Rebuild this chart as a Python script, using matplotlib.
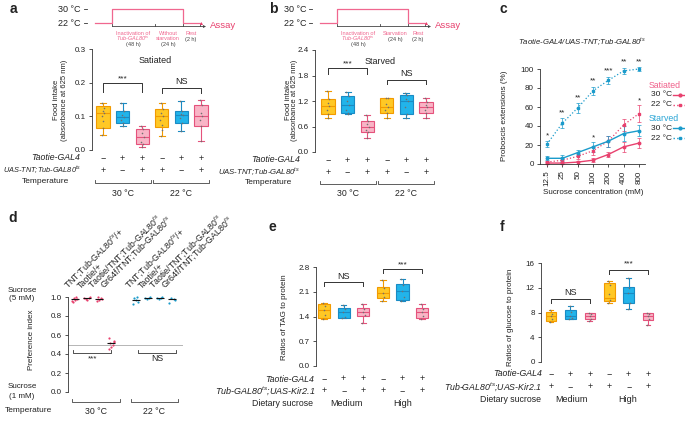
import matplotlib
matplotlib.use('Agg')
import matplotlib.pyplot as plt
import matplotlib.transforms as mtransforms
from matplotlib.lines import Line2D
import numpy as np

plt.rcParams['font.family'] = ['Liberation Sans', 'DejaVu Sans']
plt.rcParams['mathtext.fontset'] = 'custom'
plt.rcParams['mathtext.rm'] = 'Liberation Sans'
plt.rcParams['mathtext.it'] = 'Liberation Sans:italic'
plt.rcParams['font.size'] = 5.5
plt.rcParams['axes.linewidth'] = 0.6
plt.rcParams['xtick.major.width'] = 0.6
plt.rcParams['ytick.major.width'] = 0.6
plt.rcParams['xtick.major.size'] = 2.5
plt.rcParams['ytick.major.size'] = 2.5
plt.rcParams['xtick.major.pad'] = 2
plt.rcParams['ytick.major.pad'] = 2
plt.rcParams['text.color'] = '#222222'

# ---------------- data ----------------
# panel a (satiated food intake)
a_whislo = [0.045, 0.072, 0.010, 0.042, 0.055, 0.027]
a_q1 = [0.065, 0.080, 0.017, 0.068, 0.080, 0.070]
a_med = [0.110, 0.097, 0.040, 0.100, 0.105, 0.102]
a_q3 = [0.130, 0.115, 0.063, 0.123, 0.117, 0.133]
a_whishi = [0.140, 0.140, 0.070, 0.140, 0.145, 0.150]
a_points = [[0.14, 0.125, 0.115, 0.11, 0.10, 0.085, 0.065, 0.045],
            [0.14, 0.115, 0.105, 0.097, 0.09, 0.08, 0.072],
            [0.07, 0.063, 0.05, 0.04, 0.025, 0.017, 0.01],
            [0.14, 0.123, 0.11, 0.10, 0.09, 0.075, 0.06, 0.042],
            [0.145, 0.117, 0.108, 0.105, 0.095, 0.08, 0.055],
            [0.15, 0.133, 0.11, 0.10, 0.09, 0.07, 0.027]]
# panel b (starved food intake)
b_whislo = [0.79, 0.89, 0.32, 0.79, 0.79, 0.81]
b_q1 = [0.90, 0.91, 0.48, 0.91, 0.89, 0.92]
b_med = [1.09, 1.11, 0.60, 1.05, 1.19, 1.05]
b_q3 = [1.25, 1.31, 0.73, 1.26, 1.33, 1.17]
b_whishi = [1.43, 1.41, 0.87, 1.28, 1.40, 1.28]
b_points = [[1.43, 1.25, 1.15, 1.09, 1.0, 0.90, 0.79],
            [1.41, 1.31, 1.2, 1.11, 1.0, 0.91, 0.89],
            [0.87, 0.73, 0.65, 0.60, 0.52, 0.48, 0.32],
            [1.28, 1.26, 1.12, 1.05, 0.98, 0.91, 0.79],
            [1.40, 1.33, 1.25, 1.19, 1.05, 0.89, 0.79],
            [1.28, 1.17, 1.10, 1.05, 0.98, 0.92, 0.81]]
genotype_taotie = ['\u2212', '+', '+', '\u2212', '+', '+']
genotype_other = ['+', '\u2212', '+', '+', '\u2212', '+']
temperatures = ['30 \u00b0C', '22 \u00b0C']

# panel c (proboscis extension)
c_conc = ['12.5', '25', '50', '100', '200', '400', '800']
c_sat30 = [1, 1, 2, 4, 10, 18, 22]
c_sat30_err = [1, 1, 1.5, 2, 3, 5, 5]
c_sat22 = [2, 4, 8, 14, 24, 41, 53]
c_sat22_err = [1.5, 2, 3, 4, 6, 6, 9]
c_sta30 = [6, 6, 12, 18, 24, 32, 35]
c_sta30_err = [2, 3, 3, 5, 6, 8, 6]
c_sta22 = [21, 43, 59, 77, 88, 98, 100]
c_sta22_err = [3, 5, 5, 4, 4, 3, 2]
c_sta_stars = ['*', '**', '**', '**', '***', '**', '**']
c_sat_stars = ['', '', '', '*', '', '', '*']

# panel d (preference index)
d_labels = ['TNT;Tub-GAL80$^{ts}$/+', 'Taotie/+', 'Taotie/TNT;Tub-GAL80$^{ts}$',
            'Gr64f/TNT;Tub-GAL80$^{ts}$'] * 2
d_points = [[0.96, 0.98, 0.99, 1.0, 0.97, 0.95],
            [0.99, 1.0, 0.98, 0.99, 0.97],
            [0.96, 0.98, 1.0, 0.99, 0.97],
            [0.57, 0.54, 0.52, 0.50, 0.47, 0.45, 0.53],
            [0.93, 0.95, 0.99, 1.0, 0.97],
            [0.99, 1.0, 0.98, 0.99],
            [0.99, 1.0, 0.98, 0.99],
            [0.94, 0.97, 0.99, 0.98]]

# panel e (TAG)
e_whislo = [1.34, 1.36, 1.22, 1.84, 1.84, 1.34]
e_q1 = [1.37, 1.37, 1.42, 1.91, 1.87, 1.37]
e_med = [1.58, 1.53, 1.53, 2.07, 2.12, 1.53]
e_q3 = [1.75, 1.64, 1.65, 2.23, 2.33, 1.65]
e_whishi = [1.78, 1.73, 1.74, 2.42, 2.47, 1.74]
e_points = [[1.78, 1.70, 1.58, 1.45, 1.34],
            [1.73, 1.60, 1.53, 1.40, 1.36],
            [1.74, 1.62, 1.53, 1.45, 1.22],
            [2.42, 2.20, 2.07, 1.95, 1.84],
            [2.47, 2.30, 2.12, 1.95, 1.84],
            [1.74, 1.62, 1.53, 1.42, 1.34]]
# panel f (glucose)
f_whislo = [6.47, 6.9, 6.7, 9.5, 8.5, 6.0]
f_q1 = [6.63, 7.0, 6.9, 9.8, 9.5, 6.85]
f_med = [7.38, 7.5, 7.4, 10.3, 11.2, 7.5]
f_q3 = [8.08, 8.35, 7.9, 12.8, 12.1, 7.9]
f_whishi = [8.35, 9.0, 8.0, 13.1, 13.6, 8.0]
f_points = [[8.35, 7.8, 7.38, 6.9, 6.47],
            [9.0, 8.1, 7.5, 7.1, 6.9],
            [8.0, 7.7, 7.4, 7.0, 6.7],
            [13.1, 12.5, 11.0, 10.0, 9.5],
            [13.6, 12.0, 11.2, 9.6, 8.5],
            [8.0, 7.7, 7.5, 6.9, 6.0]]
diet_levels = ['Medium', 'High']

# ---------------- style ----------------
BOX_FACE = ['#FFC825', '#22B4EA', '#F9B4C6']
BOX_EDGE = ['#F29A00', '#1A8BC4', '#E5527C']
PINK = '#E8416E'
BLUE = '#1B9BCB'
TL_PINK = '#F0678F'
JIT = np.array([-0.06, 0.05, -0.02, 0.07, -0.07, 0.02, 0.0, -0.04])
FS_ROW = 6.3
FS_PM = 6.5
FS_GRP = 6.3

W, H = 685, 426
fig = plt.figure(figsize=(6.85, 4.26), dpi=100)


def fx(x):
    return x / W


def fy(y):
    return 1 - y / H


def add_ax(l, t, r, b):
    ax = fig.add_axes([l / W, 1 - b / H, (r - l) / W, (b - t) / H])
    for s in ['top', 'right', 'bottom']:
        ax.spines[s].set_visible(False)
    ax.spines['left'].set_color('#333333')
    ax.tick_params(colors='#333333', labelsize=5.8, labelcolor='#222222')
    return ax


def ftext(x, y, s, **kw):
    kw.setdefault('ha', 'center')
    kw.setdefault('va', 'center')
    fig.text(fx(x), fy(y), s, **kw)


def draw_boxes(ax, whislo, q1, med, q3, whishi, pts, width):
    stats = [dict(whislo=whislo[i], q1=q1[i], med=med[i], q3=q3[i], whishi=whishi[i])
             for i in range(len(med))]
    bp = ax.bxp(stats, positions=np.arange(len(med)), widths=width,
                capwidths=width * 0.45, showfliers=False, patch_artist=True,
                manage_ticks=False)
    for i, box in enumerate(bp['boxes']):
        fc, ec = BOX_FACE[i % 3], BOX_EDGE[i % 3]
        box.set(facecolor=fc, edgecolor=ec, linewidth=0.8)
        bp['medians'][i].set(color=ec, linewidth=0.8)
        for w in bp['whiskers'][2 * i:2 * i + 2]:
            w.set(color=ec, linewidth=0.8)
        for c in bp['caps'][2 * i:2 * i + 2]:
            c.set(color=ec, linewidth=0.8)
    for i, p in enumerate(pts):
        ax.scatter(i + JIT[:len(p)] * width * 1.5, p, s=1.3, color='#707070',
                   zorder=3, linewidths=0)


def bracket(ax, x1, x2, y, drop, label, label_y, fs=6):
    ax.plot([x1, x1, x2, x2], [y - drop, y, y, y - drop], color='#333333',
            lw=0.7, clip_on=False)
    ax.text((x1 + x2) / 2, label_y, label, ha='center', va='center', fontsize=fs,
            clip_on=False)


def rows(ax, y_px_list, labels, label_x, row_values, fs_labels):
    trans = mtransforms.blended_transform_factory(ax.transData, fig.transFigure)
    for (ypx, lab, vals, lx, style, fs) in zip(y_px_list, labels, row_values,
                                                label_x, ['italic', 'italic', 'normal'],
                                                fs_labels):
        ftext(lx, ypx, lab, ha='right', style=style, fontsize=fs)
        if vals is None:
            continue
        for i, v in enumerate(vals):
            ax.text(i, fy(ypx), v, transform=trans, ha='center', va='center',
                    fontsize=FS_PM)


def group_brackets(ax, ypx, spans, names, name_y):
    trans = mtransforms.blended_transform_factory(ax.transData, fig.transFigure)
    for (x1, x2), nm in zip(spans, names):
        ax.add_line(Line2D([x1, x1, x2, x2], [fy(ypx - 3), fy(ypx), fy(ypx), fy(ypx - 3)],
                           transform=trans, color='#444444', lw=0.6, clip_on=False))
        ax.text((x1 + x2) / 2, fy(name_y), nm, transform=trans, ha='center',
                va='center', fontsize=FS_GRP)


def timeline(off, seg_texts):
    # schematic temperature protocol
    ftext(off + 81, 9, '30 \u00b0C', ha='right', fontsize=6.5)
    ftext(off + 81, 23, '22 \u00b0C', ha='right', fontsize=6.5)
    for yy in (9, 23):
        fig.add_artist(Line2D([fx(off + 84), fx(off + 87)], [fy(yy), fy(yy)],
                              color='#333333', lw=0.6))
    xs = [off + 95, off + 112, off + 112, off + 183, off + 183, off + 200]
    ys = [23, 23, 9, 9, 23, 23]
    fig.add_artist(Line2D([fx(v) for v in xs], [fy(v) for v in ys], color=TL_PINK, lw=0.9))
    fig.add_artist(Line2D([fx(off + 112), fx(off + 204)], [fy(25.5), fy(25.5)],
                          color='#444444', lw=0.6))
    for tx in (112, 155, 183, 200):
        fig.add_artist(Line2D([fx(off + tx)] * 2, [fy(25.5), fy(23.5)],
                              color='#444444', lw=0.6))
    fig.add_artist(Line2D([fx(off + 204)], [fy(25.5)], marker='>', ms=2.2,
                          color='#444444', mec='none'))
    fig.add_artist(Line2D([fx(off + 201)], [fy(23)], marker='^', ms=2.2,
                          color=PINK, mec='none'))
    ftext(off + 210, 25, 'Assay', ha='left', color=PINK, fontsize=6.8)
    for cx, lines in seg_texts:
        for k, (s, col, st) in enumerate(lines):
            ftext(off + cx, 33.5 + 5.5 * k, s, color=col, style=st, fontsize=4)


# ---------------- panel a ----------------
timeline(0, [(133, [('Inactivation of', TL_PINK, 'normal'),
                    ('Tub-GAL80$^{ts}$', TL_PINK, 'italic'),
                    ('(48 h)', '#444444', 'normal')]),
             (168, [('Without', TL_PINK, 'normal'), ('starvation', TL_PINK, 'normal'),
                    ('(24 h)', '#444444', 'normal')]),
             (191, [('Rest', TL_PINK, 'normal'), ('(2 h)', '#444444', 'normal')])])
axa = add_ax(92, 49, 212, 150)
draw_boxes(axa, a_whislo, a_q1, a_med, a_q3, a_whishi, a_points, 0.67)
axa.set_xlim(-0.56, 5.56)
axa.set_ylim(0, 0.3)
axa.set_yticks([0, 0.1, 0.2, 0.3])
axa.set_yticklabels(['0.0', '0.1', '0.2', '0.3'])
axa.set_xticks([])
axa.text(2.65, 0.265, 'Satiated', ha='center', va='center', fontsize=6.5)
bracket(axa, 0, 2, 0.199, 0.027, '***', 0.21)
bracket(axa, 3, 5, 0.184, 0.015, 'NS', 0.204, fs=6.5)
ftext(60.5, 100, 'Food intake\n(absorbance at 625 nm)', rotation=90, linespacing=1.0)
rows(axa, [158, 170, 182], ['Taotie-GAL4', 'UAS-TNT;Tub-GAL80$^{ts}$', 'Temperature'],
     [80, 81, 69], [genotype_taotie, genotype_other, None], [FS_ROW, 5.3, 6.0])
group_brackets(axa, 183, [(-0.4, 2.47), (2.53, 5.4)], temperatures, 193)
ftext(13, 9, 'a', fontweight='bold', fontsize=10)

# ---------------- panel b ----------------
timeline(225, [(133, [('Inactivation of', TL_PINK, 'normal'),
                      ('Tub-GAL80$^{ts}$', TL_PINK, 'italic'),
                      ('(48 h)', '#444444', 'normal')]),
               (170, [('Starvation', TL_PINK, 'normal'), ('(24 h)', '#444444', 'normal')]),
               (193, [('Rest', TL_PINK, 'normal'), ('(2 h)', '#444444', 'normal')])])
axb = add_ax(315, 50, 437, 152)
draw_boxes(axb, b_whislo, b_q1, b_med, b_q3, b_whishi, b_points, 0.67)
axb.set_xlim(-0.66, 5.56)
axb.set_ylim(0, 2.4)
axb.set_yticks([0, 0.6, 1.2, 1.8, 2.4])
axb.set_yticklabels(['0.0', '0.6', '1.2', '1.8', '2.4'])
axb.set_xticks([])
axb.text(2.65, 2.14, 'Starved', ha='center', va='center', fontsize=6.5)
bracket(axb, 0, 2, 1.98, 0.15, '***', 2.08)
bracket(axb, 3, 5, 1.69, 0.09, 'NS', 1.85, fs=6.5)
ftext(291.5, 100, 'Food intake\n(absorbance at 625 nm)', rotation=90, linespacing=1.0)
rows(axb, [160, 172, 183], ['Taotie-GAL4', 'UAS-TNT;Tub-GAL80$^{ts}$', 'Temperature'],
     [300, 300, 292], [genotype_taotie, genotype_other, None], [FS_ROW, 5.6, 6.0])
group_brackets(axb, 184, [(-0.4, 2.47), (2.53, 5.4)], temperatures, 194)
ftext(273, 9, 'b', fontweight='bold', fontsize=10)

# ---------------- panel c ----------------
axc = add_ax(540, 69, 645, 164)
axc.spines['bottom'].set_visible(True)
axc.spines['bottom'].set_color('#333333')
xc = np.arange(len(c_conc))
for vals, err, col, ls, mk in [(c_sat30, c_sat30_err, PINK, '-', 'o'),
                               (c_sat22, c_sat22_err, PINK, ':', 's'),
                               (c_sta30, c_sta30_err, BLUE, '-', 'o'),
                               (c_sta22, c_sta22_err, BLUE, ':', 's')]:
    axc.errorbar(xc, vals, yerr=err, color=col, ls=ls, lw=1.0 if ls == '-' else 0.9,
                 marker=mk, ms=1.8, capsize=1.2, elinewidth=0.5, capthick=0.5,
                 clip_on=False)
for i, s in enumerate(c_sta_stars):
    axc.text(i, c_sta22[i] + c_sta22_err[i] + 6, s, ha='center', va='center',
             fontsize=5.8, clip_on=False)
for i, s in enumerate(c_sat_stars):
    if s:
        top = max(v[i] + e[i] for v, e in [(c_sat30, c_sat30_err), (c_sat22, c_sat22_err),
                                           (c_sta30, c_sta30_err)])
        axc.text(i, top + 4, s, ha='center', va='center', fontsize=5.8, clip_on=False)
axc.set_xlim(-0.46, 6.4)
axc.set_ylim(0, 100)
axc.set_yticks([0, 20, 40, 60, 80, 100])
axc.set_xticks(xc)
axc.set_xticklabels(c_conc, rotation=90)
ftext(582, 42, 'Taotie-GAL4/UAS-TNT;Tub-GAL80$^{ts}$', style='italic', fontsize=5.6)
ftext(505, 116, 'Proboscis extensions (%)', rotation=90, fontsize=5.8)
ftext(593, 192, 'Sucrose concentration (mM)', fontsize=5.8)
ftext(649, 86, 'Satiated', ha='left', color='#F0608A', fontsize=6.3)
ftext(649, 119, 'Starved', ha='left', color='#2AA5D5', fontsize=6.3)
for yy, txt, col, ls, mk in [(95, temperatures[0], PINK, '-', 'o'),
                             (105, temperatures[1], PINK, ':', 's'),
                             (128, temperatures[0], BLUE, '-', 'o'),
                             (138, temperatures[1], BLUE, ':', 's')]:
    ftext(651, yy, txt, ha='left', fontsize=6.0)
    fig.add_artist(Line2D([fx(673), fx(685)], [fy(yy), fy(yy)], color=col, ls=ls, lw=1.0))
    fig.add_artist(Line2D([fx(680)], [fy(yy)], marker=mk, ms=2, color=col))
ftext(503, 9, 'c', fontweight='bold', fontsize=10)

# ---------------- panel d ----------------
axd = add_ax(68, 297, 183, 392)
xd = np.array([0, 1, 2, 3, 5, 6, 7, 8])
d_cols = [PINK] * 4 + [BLUE] * 4
for x, p, col in zip(xd, d_points, d_cols):
    axd.scatter(x + np.resize(np.array([-0.22, 0.2, -0.1, 0.12, 0.0, -0.18, 0.22]), len(p)),
                p, s=2.5, color=col, linewidths=0, zorder=3, clip_on=False)
    axd.hlines(np.median(p), x - 0.33, x + 0.33, color='#111111', lw=0.8, zorder=4)
axd.axhline(0.5, color='#999999', lw=0.5, zorder=1)
axd.set_xlim(-0.58, 8.9)
axd.set_ylim(0, 1.0)
axd.set_yticks([0, 0.2, 0.4, 0.6, 0.8, 1.0])
axd.set_yticklabels(['0.0', '0.2', '0.4', '0.6', '0.8', '1.0'])
axd.set_xticks([])
for x, lab in zip(xd, d_labels):
    axd.text(x - 0.41, 1.065, lab, rotation=45, rotation_mode='anchor', ha='left',
             va='bottom', fontsize=6.4, clip_on=False)
axd.plot([-0.15, -0.15, 3.0, 3.0], [0.44, 0.41, 0.41, 0.44], color='#333333', lw=0.6)
axd.text(1.4, 0.35, '***', ha='center', va='center', fontsize=5.8)
axd.plot([5.2, 5.2, 8.3, 8.3], [0.44, 0.41, 0.41, 0.44], color='#333333', lw=0.6)
axd.text(6.75, 0.35, 'NS', ha='center', va='center', fontsize=6.3)
ftext(22, 290, 'Sucrose', fontsize=5.8)
ftext(22, 298.5, '(5 mM)', fontsize=5.8)
ftext(22, 387, 'Sucrose', fontsize=5.8)
ftext(22, 396.5, '(1 mM)', fontsize=5.8)
ftext(32, 340, 'Preference index', rotation=90, fontsize=5.8)
ftext(5, 411, 'Temperature', ha='left', fontsize=6.0)
group_brackets(axd, 402, [(-0.25, 3.67), (4.58, 8.5)], temperatures, 412)
ftext(13, 218, 'd', fontweight='bold', fontsize=10)

# ---------------- panel e ----------------
axe = add_ax(316, 267, 430, 366)
draw_boxes(axe, e_whislo, e_q1, e_med, e_q3, e_whishi, e_points, 0.62)
axe.set_xlim(-0.41, 5.4)
axe.set_ylim(0, 2.8)
axe.set_yticks([0, 0.7, 1.4, 2.1, 2.8])
axe.set_yticklabels(['0.0', '0.7', '1.4', '2.1', '2.8'])
axe.set_xticks([])
bracket(axe, 0, 2, 2.37, 0.11, 'NS', 2.54, fs=6.5)
bracket(axe, 3, 5, 2.74, 0.11, '***', 2.86)
ftext(285, 317, 'Ratios of TAG to protein', rotation=90, fontsize=5.8)
rows(axe, [379, 391, 404], ['Taotie-GAL4', 'Tub-GAL80$^{ts}$;UAS-Kir2.1', 'Dietary sucrose'],
     [314, 316, 313], [genotype_taotie, genotype_other, None], [FS_ROW, 6.5, 6.3])
trans_e = mtransforms.blended_transform_factory(axe.transData, fig.transFigure)
for xx, lab in zip([1.15, 4.0], diet_levels):
    axe.text(xx, fy(404), lab, transform=trans_e, ha='center', va='center', fontsize=6.5)
ftext(272, 227, 'e', fontweight='bold', fontsize=10)

# ---------------- panel f ----------------
axf = add_ax(541, 263, 655, 362)
draw_boxes(axf, f_whislo, f_q1, f_med, f_q3, f_whishi, f_points, 0.55)
axf.set_xlim(-0.52, 5.36)
axf.set_ylim(0, 16)
axf.set_yticks([0, 4, 8, 12, 16])
axf.set_xticks([])
bracket(axf, 0, 2, 10.2, 0.7, 'NS', 11.2, fs=6.5)
bracket(axf, 3, 5, 14.9, 0.7, '***', 15.9)
ftext(511, 317, 'Ratios of glucose to protein', rotation=90, fontsize=5.8)
rows(axf, [374, 387, 399], ['Taotie-GAL4', 'Tub-GAL80$^{ts}$;UAS-Kir2.1', 'Dietary sucrose'],
     [542, 542, 541], [genotype_taotie, genotype_other, None], [FS_ROW, 6.3, 6.3])
trans_f = mtransforms.blended_transform_factory(axf.transData, fig.transFigure)
for xx, lab in zip([1.05, 3.95], diet_levels):
    axf.text(xx, fy(399), lab, transform=trans_f, ha='center', va='center', fontsize=6.5)
ftext(502, 227, 'f', fontweight='bold', fontsize=10)

fig.savefig('out.png', dpi=100)
